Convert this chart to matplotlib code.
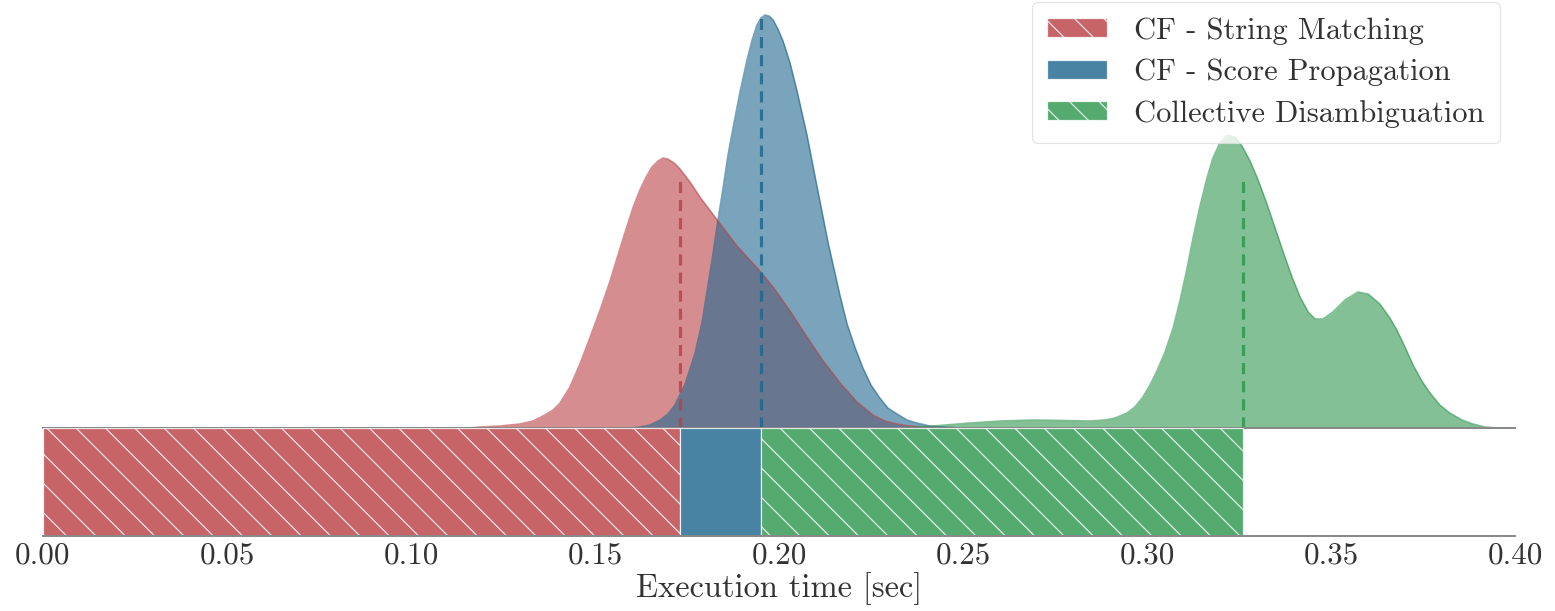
import matplotlib
matplotlib.use('Agg')
import matplotlib.pyplot as plt

# method names, mean execution time [sec]
names = ['CF - String Matching', 'CF - Score Propagation', 'Collective Disambiguation']
means = [0.173, 0.195, 0.326]
# height where the dashed mean line stops
mean_line_top = [20.1, 32.8, 20.2]

# density curves (x in sec, density)
sm_x = [0.1160, 0.1188, 0.1242, 0.1296, 0.1332, 0.1364, 0.1386, 0.1405, 0.1432, 0.1459,
        0.1486, 0.1514, 0.1541, 0.1560, 0.1582, 0.1603, 0.1622, 0.1639, 0.1655, 0.1671,
        0.1685, 0.1698, 0.1715, 0.1731, 0.1758, 0.1785, 0.1832, 0.1886, 0.1948, 0.1984,
        0.2030, 0.2076, 0.2120, 0.2166, 0.2212, 0.2255, 0.2288, 0.2321, 0.2356, 0.2391,
        0.2465]
sm_y = [0.0, 0.08, 0.16, 0.32, 0.56, 1.04, 1.44, 2.0, 3.28, 5.12,
        7.2, 9.44, 11.76, 13.6, 15.68, 17.6, 19.04, 20.08, 20.88, 21.36,
        21.6, 21.52, 21.2, 20.72, 19.68, 18.48, 16.64, 14.56, 12.56, 11.28,
        9.36, 7.28, 5.36, 3.6, 2.08, 1.04, 0.56, 0.32, 0.16, 0.08,
        0.0]

sp_x = [0.1595, 0.1622, 0.1649, 0.1677, 0.1698, 0.1717, 0.1745, 0.1772, 0.1791, 0.1804,
        0.1818, 0.1832, 0.1848, 0.1861, 0.1875, 0.1894, 0.1913, 0.1927, 0.1940, 0.1951,
        0.1962, 0.1973, 0.1984, 0.1997, 0.2011, 0.2030, 0.2049, 0.2076, 0.2103, 0.2133,
        0.2166, 0.2185, 0.2207, 0.2228, 0.2250, 0.2274, 0.2296, 0.2321, 0.2348, 0.2375,
        0.2410, 0.2446, 0.2492]
sp_y = [0.0, 0.08, 0.24, 0.64, 1.12, 1.84, 3.52, 6.0, 8.48, 10.88,
        13.44, 16.24, 19.2, 21.76, 24.0, 26.88, 29.44, 31.04, 32.24, 32.8,
        33.04, 32.96, 32.64, 31.92, 30.96, 29.2, 26.96, 23.44, 19.36, 14.88,
        10.56, 8.32, 6.4, 4.8, 3.44, 2.4, 1.6, 1.12, 0.64, 0.4,
        0.16, 0.08, 0.0]

cd_x = [0.2329, 0.2418, 0.2519, 0.2601, 0.2690, 0.2780, 0.2845, 0.2886, 0.2913, 0.2946,
        0.2967, 0.2989, 0.3008, 0.3027, 0.3049, 0.3071, 0.3090, 0.3109, 0.3125, 0.3144,
        0.3163, 0.3179, 0.3198, 0.3217, 0.3239, 0.3258, 0.3280, 0.3302, 0.3326, 0.3348,
        0.3370, 0.3394, 0.3416, 0.3438, 0.3457, 0.3478, 0.3505, 0.3538, 0.3573, 0.3601,
        0.3633, 0.3660, 0.3679, 0.3701, 0.3723, 0.3747, 0.3769, 0.3796, 0.3823, 0.3856,
        0.3886, 0.3918, 0.3951]
cd_y = [0.0, 0.16, 0.4, 0.56, 0.64, 0.6, 0.56, 0.64, 0.8, 1.2,
        1.68, 2.48, 3.44, 4.56, 6.08, 8.0, 10.24, 12.8, 15.2, 17.76,
        20.0, 21.6, 22.8, 23.44, 23.28, 22.56, 21.36, 19.84, 17.92, 16.0,
        14.08, 12.08, 10.48, 9.28, 8.72, 8.72, 9.28, 10.24, 10.88, 10.72,
        9.92, 8.8, 7.84, 6.48, 5.04, 3.76, 2.8, 1.84, 1.2, 0.64,
        0.32, 0.08, 0.0]

colors = ['#BB4247', '#21688F', '#309751']
hatches = ['\\', None, '\\']

DPI = 88
def pt(px):
    return px * 72 / DPI

plt.rcParams['font.family'] = 'cmr10'
plt.rcParams['axes.formatter.use_mathtext'] = True
plt.rcParams['hatch.linewidth'] = 1.0

fig = plt.figure(figsize=(1555 / DPI, 611 / DPI), dpi=DPI)
left, right = 43 / 1555, 1515 / 1555
ax_kde = fig.add_axes([left, 1 - 428 / 611, right - left, 428 / 611])
ax_bar = fig.add_axes([left, 1 - 536 / 611, right - left, 108 / 611], sharex=ax_kde)

curves = [(sm_x, sm_y), (sp_x, sp_y), (cd_x, cd_y)]
for (xs, ys), c in zip(curves, colors):
    ax_kde.fill_between(xs, ys, 0, color=c, alpha=0.6, lw=0)
    ax_kde.plot(xs, ys, color=c, alpha=0.6, lw=1.3, solid_joinstyle='round')

for m, top, c in zip(means, mean_line_top, colors):
    ax_kde.plot([m, m], [0, top], color=c, alpha=0.85, lw=2.6, ls=(0, (3.5, 2.2)))

starts = [0] + means[:-1]
handles = []
for s, m, c, h, name in zip(starts, means, colors, hatches, names):
    b = ax_bar.barh(0, m - s, left=s, height=1.0, color=c, alpha=0.82,
                    hatch=h, edgecolor='white', lw=1.0, label=name)
    handles.append(b)

ax_kde.set_xlim(0, 0.40)
ax_kde.set_ylim(0, 34.24)
ax_bar.set_ylim(-0.5, 0.5)

for ax in (ax_kde, ax_bar):
    for side in ['top', 'left', 'right']:
        ax.spines[side].set_visible(False)
    ax.spines['bottom'].set_color('#888888')
    ax.spines['bottom'].set_linewidth(1.6)
    ax.set_yticks([])
    ax.set_facecolor('none')
ax_kde.tick_params(axis='x', bottom=False, labelbottom=False)
ax_bar.set_xticks([0.0, 0.05, 0.10, 0.15, 0.20, 0.25, 0.30, 0.35, 0.40])
ax_bar.set_xticklabels(['%.2f' % v for v in ax_bar.get_xticks()])
ax_bar.tick_params(axis='x', length=0, pad=pt(6), labelsize=pt(31), colors='#333333')
ax_bar.set_xlabel('Execution time [sec]', fontsize=pt(32.5), color='#333333', labelpad=pt(2))

leg = ax_kde.legend(handles=handles, labels=names, loc='upper right',
                    bbox_to_anchor=(1500 / 1555, 1 - 2 / 611), bbox_transform=fig.transFigure,
                    borderaxespad=0, fontsize=pt(30.5), frameon=True, framealpha=0.8,
                    edgecolor='#dddddd', handlelength=1.97, handleheight=0.58,
                    handletextpad=0.9, labelspacing=0.45, borderpad=0.5)
for t in leg.get_texts():
    t.set_color('#333333')

fig.savefig('out.png', dpi=DPI)
